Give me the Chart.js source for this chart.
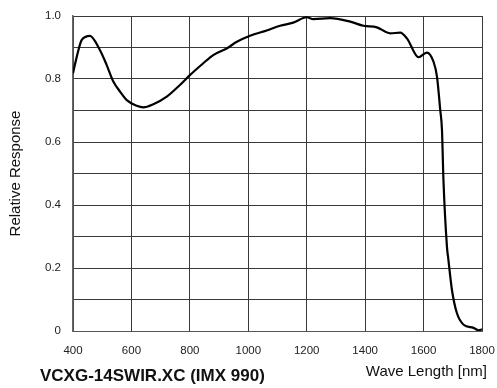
<!DOCTYPE html>
<html>
<head>
<meta charset="utf-8">
<script src="https://cdn.jsdelivr.net/npm/chart.js@4.4.1/dist/chart.umd.min.js"></script>
<style>
  body { margin: 0; background: #fff; }
  #chart { display: block; }
</style>
</head>
<body>
<canvas id="chart" width="497" height="388"></canvas>
<script>
// ===== DATA =====
const waveLengths = [400, 413, 430, 458, 492, 515, 538, 561, 584, 618, 641, 675, 721, 766, 801, 846, 880, 926, 961, 1006, 1063, 1109, 1154, 1200, 1223, 1280, 1349, 1394, 1440, 1486, 1520, 1543, 1583, 1611, 1634, 1646, 1657, 1663, 1668, 1680, 1685, 1697, 1714, 1737, 1771, 1788, 1800];
const response = [0.818, 0.871, 0.924, 0.937, 0.892, 0.845, 0.792, 0.760, 0.733, 0.715, 0.710, 0.720, 0.744, 0.781, 0.813, 0.850, 0.876, 0.897, 0.918, 0.937, 0.954, 0.969, 0.979, 0.996, 0.990, 0.993, 0.982, 0.969, 0.964, 0.945, 0.947, 0.929, 0.869, 0.884, 0.855, 0.807, 0.702, 0.638, 0.480, 0.268, 0.226, 0.131, 0.057, 0.020, 0.010, 0.002, 0.005];
const xTicks = [400, 600, 800, 1000, 1200, 1400, 1600, 1800];
const yLabels = ['0', '0.2', '0.4', '0.6', '0.8', '1.0'];
const chartTitle = 'VCXG-14SWIR.XC (IMX 990)';
const xTitle = 'Wave Length [nm]';
const yTitle = 'Relative Response';

const points = waveLengths.map((x, i) => ({ x: x, y: response[i] }));
const gridColor = '#3a3a3a';
const font = 'Arial, "Liberation Sans", sans-serif';

// extra texts drawn under / left of the plot
const textPlugin = {
    id: 'texts',
    afterDraw(chart) {
        const c = chart.ctx;
        const a = chart.chartArea;
        c.save();
        c.fillStyle = '#111';
        c.textBaseline = 'middle';
        c.font = 'bold 17px ' + font;
        c.textAlign = 'left';
        c.fillText(chartTitle, 40, 376);
        c.font = '15px ' + font;
        c.textAlign = 'right';
        c.fillText(xTitle, 487, 372);
        c.translate(16, (a.top + a.bottom) / 2);
        c.rotate(-Math.PI / 2);
        c.textAlign = 'center';
        c.font = '15px ' + font;
        c.fillText(yTitle, 0, 0);
        c.restore();
    }
};

new Chart(document.getElementById('chart'), {
    type: 'line',
    data: {
        datasets: [{
            data: points,
            borderColor: '#000',
            borderWidth: 2.2,
            pointRadius: 0,
            fill: false,
            cubicInterpolationMode: 'monotone'
        }]
    },
    options: {
        responsive: false,
        animation: false,
        layout: { padding: { top: 16, right: 15, left: 0, bottom: 0 } },
        plugins: { legend: { display: false }, tooltip: { enabled: false } },
        scales: {
            x: {
                type: 'linear',
                min: 400,
                max: 1800,
                afterBuildTicks: s => { s.ticks = xTicks.map(v => ({ value: v })); },
                afterFit: s => { s.height = 57; s.paddingLeft = 0; s.paddingRight = 0; },
                grid: { color: gridColor, lineWidth: 1, drawTicks: false },
                border: { color: '#555', width: 1 },
                ticks: { color: '#222', padding: 13, maxRotation: 0, font: { family: font, size: 11.5 }, callback: v => String(v) }
            },
            y: {
                min: 0,
                max: 1,
                afterBuildTicks: s => {
                    const t = [];
                    for (let i = 0; i <= 10; i++) t.push({ value: i / 10 });
                    s.ticks = t;
                },
                afterFit: s => { s.width = 73; s.paddingTop = 0; s.paddingBottom = 0; },
                grid: { color: gridColor, lineWidth: 1, drawTicks: false },
                border: { color: '#666', width: 1.5 },
                ticks: {
                    color: '#222',
                    padding: 12,
                    font: { family: font, size: 11.5 },
                    callback: (v, i) => (i % 2 === 0 ? yLabels[i / 2] : '')
                }
            }
        }
    },
    plugins: [textPlugin]
});
</script>
</body>
</html>
